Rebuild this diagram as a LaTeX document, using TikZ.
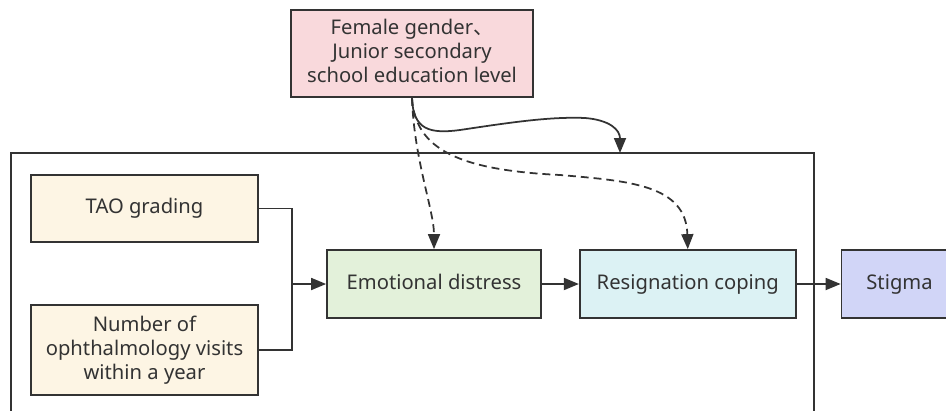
\documentclass[tikz,border=0pt]{standalone}
\usepackage{fontspec}
\setmainfont{Noto Sans}
\newfontfamily\cjk{Noto Sans CJK SC}
\usetikzlibrary{positioning,arrows.meta}

\definecolor{inkgray}{HTML}{333333}
\definecolor{pinkfill}{HTML}{F9D9DC}
\definecolor{creamfill}{HTML}{FDF5E4}
\definecolor{greenfill}{HTML}{E3F1DA}
\definecolor{cyanfill}{HTML}{DCF2F4}
\definecolor{lavfill}{HTML}{D1D5F7}

\begin{document}
\begin{tikzpicture}[
    node distance=0.74cm and 0.74cm,
    font=\fontsize{11.5}{13.7}\selectfont,
    text=inkgray,
    every node/.style={align=center},
    factor/.style={
      draw=inkgray,
      line width=1pt,
      inner sep=2pt,
      text depth=0.5ex,
      minimum height=1.36cm
    },
    link/.style={draw=inkgray, line width=1pt},
    arr/.style={link, -{Triangle[length=3mm,width=2.4mm]}},
    dash link/.style={dash pattern=on 4.5pt off 2.8pt}
  ]

  \useasboundingbox (0,0) rectangle (18.92,-8.2);

  \node [factor, fill=pinkfill] (demo) at (8.24,-1.07) [minimum width=4.84cm, minimum height=1.74cm] {Female gender{\cjk 、}\\Junior secondary\\school education level};

  \node [factor, fill=creamfill] (tao) at (2.89,-4.17) [minimum width=4.54cm, minimum height=1.34cm] {TAO grading};
  \node [factor, fill=creamfill] (visits) at (2.89,-7.0) [minimum width=4.54cm, minimum height=1.8cm] {Number of\\ophthalmology visits\\within a year};

  \node [factor, fill=greenfill] (emo) at (8.68,-5.68) [minimum width=4.28cm] {Emotional distress};
  \node [factor, fill=cyanfill] (resign) [right=of emo, minimum width=4.32cm] {Resignation coping};
  \node [factor, fill=lavfill] (stigma) [right=0.88cm of resign, minimum width=2.32cm] {Stigma};

  % outer frame, bottom edge cut off
  \coordinate (fr-sw) at (0.22,-8.4);
  \coordinate (fr-nw) at (0.22,-3.06);
  \coordinate (fr-ne) at (16.28,-3.06);
  \coordinate (fr-se) at (16.28,-8.4);
  \draw [link] (fr-sw) -- (fr-nw) -- (fr-ne) -- (fr-se);

  \coordinate (join) at (5.84,-5.68);
  \draw [link] (tao.east) -| (join) |- (visits.east);
  \draw [arr] (join) -- (emo);
  \draw [arr] (emo) -- (resign);
  \draw [arr] (resign) -- (stigma);

  \coordinate (hit) at (12.4,-3.06);
  \draw [arr] (demo.south) .. controls (8.26,-2.6) and (8.6,-2.68) .. (9.2,-2.6) .. controls (10.2,-2.45) and (11.0,-2.33) .. (11.7,-2.36) .. controls (12.2,-2.4) and (12.4,-2.6) .. (hit);
  \draw [arr, dash link] (demo.south) .. controls (8.28,-3.2) and (8.68,-4.2) .. (emo.north);
  \draw [arr, dash link] (demo.south) .. controls (8.3,-3.0) and (9.2,-3.4) .. (11.2,-3.5) .. controls (12.6,-3.62) and (13.72,-3.7) .. (resign.north);

\end{tikzpicture}
\end{document}
